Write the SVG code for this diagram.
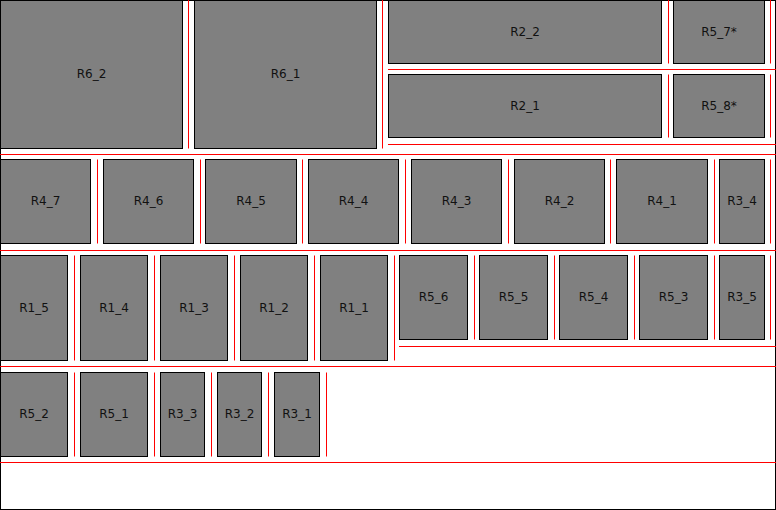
<svg xmlns="http://www.w3.org/2000/svg" width="776" height="510" viewBox="0 0 776 510">
<style>
.n rect{fill:#808080;stroke:#000;stroke-width:1}
.n text{font-family:"DejaVu Sans",sans-serif;font-size:12px;fill:#111;text-anchor:middle;dominant-baseline:central}
.g line{stroke:#f00;stroke-width:1}
</style>
<rect x="0.5" y="0.5" width="775" height="509" fill="#fff" stroke="#000"/>
<g class="g" id="guides">
<line x1="0" y1="154.5" x2="776" y2="154.5"/>
<line x1="0" y1="250.5" x2="776" y2="250.5"/>
<line x1="0" y1="366.5" x2="776" y2="366.5"/>
<line x1="0" y1="462.5" x2="776" y2="462.5"/>
<line x1="388" y1="69.5" x2="776" y2="69.5"/>
<line x1="388" y1="144.5" x2="776" y2="144.5"/>
<line x1="399" y1="346.5" x2="776" y2="346.5"/>
<line x1="188.5" y1="0" x2="188.5" y2="148.5"/>
<line x1="382.5" y1="0" x2="382.5" y2="148.5"/>
<line x1="668.5" y1="0" x2="668.5" y2="63.5"/>
<line x1="770.5" y1="0" x2="770.5" y2="63.5"/>
<line x1="668.5" y1="74.5" x2="668.5" y2="137.5"/>
<line x1="770.5" y1="74.5" x2="770.5" y2="137.5"/>
<line x1="97.5" y1="159.5" x2="97.5" y2="243.5"/>
<line x1="200.5" y1="159.5" x2="200.5" y2="243.5"/>
<line x1="302.5" y1="159.5" x2="302.5" y2="243.5"/>
<line x1="405.5" y1="159.5" x2="405.5" y2="243.5"/>
<line x1="508.5" y1="159.5" x2="508.5" y2="243.5"/>
<line x1="610.5" y1="159.5" x2="610.5" y2="243.5"/>
<line x1="714.5" y1="159.5" x2="714.5" y2="243.5"/>
<line x1="770.5" y1="159.5" x2="770.5" y2="243.5"/>
<line x1="74.5" y1="255.5" x2="74.5" y2="360.5"/>
<line x1="154.5" y1="255.5" x2="154.5" y2="360.5"/>
<line x1="234.5" y1="255.5" x2="234.5" y2="360.5"/>
<line x1="314.5" y1="255.5" x2="314.5" y2="360.5"/>
<line x1="394.5" y1="255.5" x2="394.5" y2="360.5"/>
<line x1="474.5" y1="255.5" x2="474.5" y2="339.5"/>
<line x1="554.5" y1="255.5" x2="554.5" y2="339.5"/>
<line x1="634.5" y1="255.5" x2="634.5" y2="339.5"/>
<line x1="714.5" y1="255.5" x2="714.5" y2="339.5"/>
<line x1="770.5" y1="255.5" x2="770.5" y2="339.5"/>
<line x1="74.5" y1="372.5" x2="74.5" y2="456.5"/>
<line x1="154.5" y1="372.5" x2="154.5" y2="456.5"/>
<line x1="211.5" y1="372.5" x2="211.5" y2="456.5"/>
<line x1="268.5" y1="372.5" x2="268.5" y2="456.5"/>
<line x1="326.5" y1="372.5" x2="326.5" y2="456.5"/>
</g>
<g class="n" id="R6_2"><rect x="0.5" y="0.5" width="182" height="148"/><text x="91.5" y="74">R6_2</text></g>
<g class="n" id="R6_1"><rect x="194.5" y="0.5" width="182" height="148"/><text x="285.5" y="74">R6_1</text></g>
<g class="n" id="R2_2"><rect x="388.5" y="0.5" width="273" height="63"/><text x="525" y="31.5">R2_2</text></g>
<g class="n" id="R5_7"><rect x="673.5" y="0.5" width="91" height="63"/><text x="719" y="31.5">R5_7*</text></g>
<g class="n" id="R2_1"><rect x="388.5" y="74.5" width="273" height="63"/><text x="525" y="105.5">R2_1</text></g>
<g class="n" id="R5_8"><rect x="673.5" y="74.5" width="91" height="63"/><text x="719" y="105.5">R5_8*</text></g>
<g class="n" id="R4_7"><rect x="0.5" y="159.5" width="90" height="84"/><text x="45.5" y="201">R4_7</text></g>
<g class="n" id="R4_6"><rect x="103.5" y="159.5" width="90" height="84"/><text x="148.5" y="201">R4_6</text></g>
<g class="n" id="R4_5"><rect x="205.5" y="159.5" width="91" height="84"/><text x="251" y="201">R4_5</text></g>
<g class="n" id="R4_4"><rect x="308.5" y="159.5" width="90" height="84"/><text x="353.5" y="201">R4_4</text></g>
<g class="n" id="R4_3"><rect x="411.5" y="159.5" width="90" height="84"/><text x="456.5" y="201">R4_3</text></g>
<g class="n" id="R4_2"><rect x="514.5" y="159.5" width="90" height="84"/><text x="559.5" y="201">R4_2</text></g>
<g class="n" id="R4_1"><rect x="616.5" y="159.5" width="91" height="84"/><text x="662" y="201">R4_1</text></g>
<g class="n" id="R3_4"><rect x="719.5" y="159.5" width="45" height="84"/><text x="742" y="201">R3_4</text></g>
<g class="n" id="R1_5"><rect x="0.5" y="255.5" width="67" height="105"/><text x="34" y="307.5">R1_5</text></g>
<g class="n" id="R1_4"><rect x="80.5" y="255.5" width="67" height="105"/><text x="114" y="307.5">R1_4</text></g>
<g class="n" id="R1_3"><rect x="160.5" y="255.5" width="67" height="105"/><text x="194" y="307.5">R1_3</text></g>
<g class="n" id="R1_2"><rect x="240.5" y="255.5" width="67" height="105"/><text x="274" y="307.5">R1_2</text></g>
<g class="n" id="R1_1"><rect x="320.5" y="255.5" width="67" height="105"/><text x="354" y="307.5">R1_1</text></g>
<g class="n" id="R5_6"><rect x="399.5" y="255.5" width="68" height="84"/><text x="433.5" y="297">R5_6</text></g>
<g class="n" id="R5_5"><rect x="479.5" y="255.5" width="68" height="84"/><text x="513.5" y="297">R5_5</text></g>
<g class="n" id="R5_4"><rect x="559.5" y="255.5" width="68" height="84"/><text x="593.5" y="297">R5_4</text></g>
<g class="n" id="R5_3"><rect x="639.5" y="255.5" width="68" height="84"/><text x="673.5" y="297">R5_3</text></g>
<g class="n" id="R3_5"><rect x="719.5" y="255.5" width="45" height="84"/><text x="742" y="297">R3_5</text></g>
<g class="n" id="R5_2"><rect x="0.5" y="372.5" width="67" height="84"/><text x="34" y="414">R5_2</text></g>
<g class="n" id="R5_1"><rect x="80.5" y="372.5" width="67" height="84"/><text x="114" y="414">R5_1</text></g>
<g class="n" id="R3_3"><rect x="160.5" y="372.5" width="44" height="84"/><text x="182.5" y="414">R3_3</text></g>
<g class="n" id="R3_2"><rect x="217.5" y="372.5" width="44" height="84"/><text x="239.5" y="414">R3_2</text></g>
<g class="n" id="R3_1"><rect x="274.5" y="372.5" width="45" height="84"/><text x="297" y="414">R3_1</text></g>
</svg>
